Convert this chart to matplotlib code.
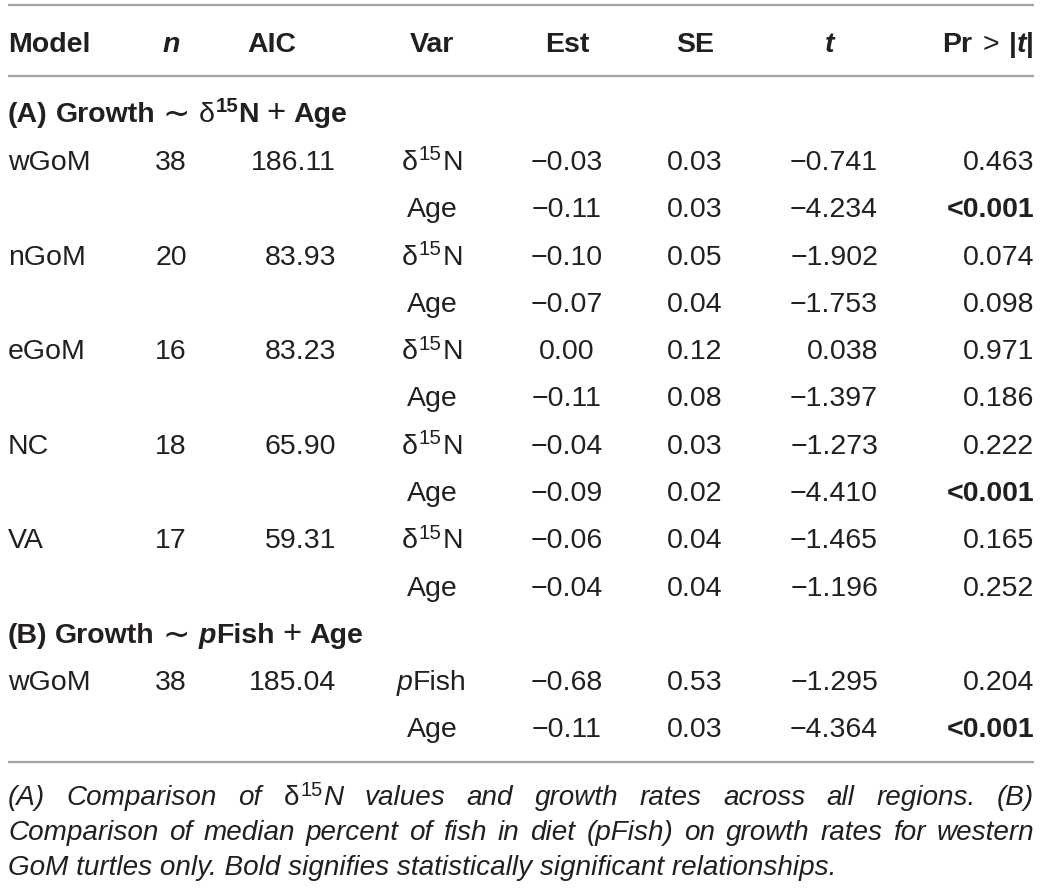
import matplotlib
matplotlib.use("Agg")
import matplotlib.pyplot as plt

# ---------------- data ----------------
regions = ["wGoM", "nGoM", "eGoM", "NC", "VA"]
n_a = [38, 20, 16, 18, 17]
aic_a = [186.11, 83.93, 83.23, 65.90, 59.31]
est_n15 = [-0.03, -0.10, 0.00, -0.04, -0.06]
se_n15 = [0.03, 0.05, 0.12, 0.03, 0.04]
t_n15 = [-0.741, -1.902, 0.038, -1.273, -1.465]
p_n15 = [0.463, 0.074, 0.971, 0.222, 0.165]
est_age_a = [-0.11, -0.07, -0.11, -0.09, -0.04]
se_age_a = [0.03, 0.04, 0.08, 0.02, 0.04]
t_age_a = [-4.234, -1.753, -1.397, -4.410, -1.196]
p_age_a = ["<0.001", 0.098, 0.186, "<0.001", 0.252]

region_b = "wGoM"
n_b = 38
aic_b = 185.04
est_b = [-0.68, -0.11]
se_b = [0.53, 0.03]
t_b = [-1.295, -4.364]
p_b = [0.204, "<0.001"]

caption_lines = [
    "(A) Comparison of δ|15|N values and growth rates across all regions. (B)",
    "Comparison of median percent of fish in diet (pFish) on growth rates for western",
    "GoM turtles only. Bold signifies statistically significant relationships.",
]

# ---------------- setup ----------------
FAM = ["Liberation Sans", "DejaVu Sans"]
COL = "#231f20"
LINE = "#a3a3a3"
W, H = 1042, 892
fig = plt.figure(figsize=(W / 100, H / 100), dpi=100)
ax = fig.add_axes([0, 0, 1, 1])
ax.set_xlim(0, W)
ax.set_ylim(H, 0)
ax.axis("off")
renderer = fig.canvas.get_renderer()

SZ = 20.5
SUP = 0.72

_cache = {}


def measure(txt, size, w, s):
    key = (txt, size, w, s)
    if key not in _cache:
        t = ax.text(0, 0, txt, fontsize=size, fontweight=w, fontstyle=s, family=FAM)
        _cache[key] = t.get_window_extent(renderer).width
        t.remove()
    return _cache[key]


def space_w(size, w, s):
    return measure("x x", size, w, s) - measure("xx", size, w, s)


def R(text, w="normal", s="normal", sup=False, scale=1.0, pad=0.0, dy=0.0):
    return (text, w, s, sup, scale, pad, dy)


def run_size(run, size):
    return size * (SUP if run[3] else 1) * run[4]


def run_width(run, size):
    text, w, s, sup, scale, pad, dy = run
    sz = run_size(run, size)
    if text == " ":
        return space_w(sz, w, s) + pad
    return measure(text, sz, w, s) + pad


def draw_runs(x, y, runs, size=SZ, ha="left"):
    total = sum(run_width(r, size) for r in runs)
    if ha == "right":
        x0 = x - total
    elif ha == "center":
        x0 = x - total / 2
    else:
        x0 = x
    for r in runs:
        text, w, s, sup, scale, pad, ddy = r
        if text != " ":
            sz = run_size(r, size)
            dy = -0.34 * size * 100 / 72 if sup else 0
            ax.text(x0 + pad / 2, y + dy + ddy, text, fontsize=sz, fontweight=w, fontstyle=s,
                    family=FAM, color=COL, ha="left", va="baseline")
        x0 += run_width(r, size)


def fmt(v, d):
    if isinstance(v, str):
        return v
    s = f"{v:.{d}f}"
    return s.replace("-", "\u2212")


def pruns(v):
    if isinstance(v, str):
        return [R(v, "bold")]
    return [R(fmt(v, 3))]


D15N = [R("δ", pad=1.5), R("15", sup=True, pad=1.5), R("N")]

# columns
X_MODEL = 8
X_N = 171
X_AIC_H = 272
X_AIC = 336
X_VAR = 432
X_EST = 567
X_SE = 695
X_T_H = 830
X_T = 878
X_P = 1034

# rules
for yy in (5, 76, 762):
    ax.plot([8, 1034], [yy, yy], color=LINE, lw=1.6, solid_capstyle="butt")

# header
yh = 52
draw_runs(X_MODEL, yh, [R("Model", "bold")])
draw_runs(X_N, yh, [R("n", "bold", "italic")], ha="center")
draw_runs(X_AIC_H, yh, [R("AIC", "bold")], ha="center")
draw_runs(X_VAR, yh, [R("Var", "bold")], ha="center")
draw_runs(X_EST, yh, [R("Est", "bold")], ha="center")
draw_runs(X_SE, yh, [R("SE", "bold")], ha="center")
draw_runs(X_T_H, yh, [R("t", "bold", "italic")], ha="center")
draw_runs(X_P, yh, [R("Pr", "bold"), R(" ", "bold", pad=2), R(">"), R(" ", "bold", pad=2),
                    R("|", "bold"), R("t", "bold", "italic"), R("|", "bold")], ha="right")

# section A
B = lambda t, **k: R(t, "bold", **k)
TILDE = R("\u223c", scale=1.15, dy=1.5)
PLUS = R("+", scale=1.15)
draw_runs(X_MODEL, 122, [B("(A)"), B(" "), B("Growth"), B(" "), TILDE, B(" "),
                         R("δ", pad=1), R("15", "bold", sup=True), B("N"), B(" "), PLUS,
                         B(" "), B("Age")])

y0 = 170
pitch = 47.3
for i, reg in enumerate(regions):
    ya = y0 + (2 * i) * pitch
    yb = ya + pitch
    draw_runs(X_MODEL, ya, [R(reg)])
    draw_runs(X_N, ya, [R(str(n_a[i]))], ha="center")
    draw_runs(X_AIC, ya, [R(fmt(aic_a[i], 2))], ha="right")
    draw_runs(X_VAR, ya, D15N, ha="center")
    draw_runs(X_EST, ya, [R(fmt(est_n15[i], 2))], ha="center")
    draw_runs(X_SE, ya, [R(fmt(se_n15[i], 2))], ha="center")
    draw_runs(X_T, ya, [R(fmt(t_n15[i], 3))], ha="right")
    draw_runs(X_P, ya, pruns(p_n15[i]), ha="right")

    draw_runs(X_VAR, yb, [R("Age")], ha="center")
    draw_runs(X_EST, yb, [R(fmt(est_age_a[i], 2))], ha="center")
    draw_runs(X_SE, yb, [R(fmt(se_age_a[i], 2))], ha="center")
    draw_runs(X_T, yb, [R(fmt(t_age_a[i], 3))], ha="right")
    draw_runs(X_P, yb, pruns(p_age_a[i]), ha="right")

# section B
yB = 643
draw_runs(X_MODEL, yB, [B("(B)"), B(" "), B("Growth"), B(" "), TILDE, B(" "),
                        R("p", "bold", "italic"), B("Fish"), B(" "), PLUS, B(" "),
                        B("Age")])
ya = 690
yb = ya + pitch
draw_runs(X_MODEL, ya, [R(region_b)])
draw_runs(X_N, ya, [R(str(n_b))], ha="center")
draw_runs(X_AIC, ya, [R(fmt(aic_b, 2))], ha="right")
draw_runs(X_VAR, ya, [R("p", s="italic"), R("Fish")], ha="center")
draw_runs(X_VAR, yb, [R("Age")], ha="center")
for k, yy in enumerate((ya, yb)):
    draw_runs(X_EST, yy, [R(fmt(est_b[k], 2))], ha="center")
    draw_runs(X_SE, yy, [R(fmt(se_b[k], 2))], ha="center")
    draw_runs(X_T, yy, [R(fmt(t_b[k], 3))], ha="right")
    draw_runs(X_P, yy, pruns(p_b[k]), ha="right")

# caption (italic, justified)
last_w = 832
cs = 10 * last_w / measure(caption_lines[2], 10, "normal", "italic")
cap_y = [805, 840, 875]


def word_runs(word):
    if "|" in word:
        a, b, c = word.split("|")
        return [R(a, pad=1.5), R(b, sup=True, pad=1), R(c, s="italic")]
    return [R(word, s="italic")]


for li, line in enumerate(caption_lines):
    y = cap_y[li]
    if li == len(caption_lines) - 1:
        ax.text(8, y, line.replace("|", ""), fontsize=cs, fontstyle="italic",
                family=FAM, color=COL, ha="left", va="baseline")
        continue
    words = line.split(" ")
    wr = [word_runs(w) for w in words]
    widths = [sum(run_width(r, cs) for r in rs) for rs in wr]
    gap = (1034 - 8 - sum(widths)) / (len(words) - 1)
    x = 8
    for rs, wd in zip(wr, widths):
        draw_runs(x, y, rs, size=cs)
        x += wd + gap

fig.savefig("out.png", dpi=100)
